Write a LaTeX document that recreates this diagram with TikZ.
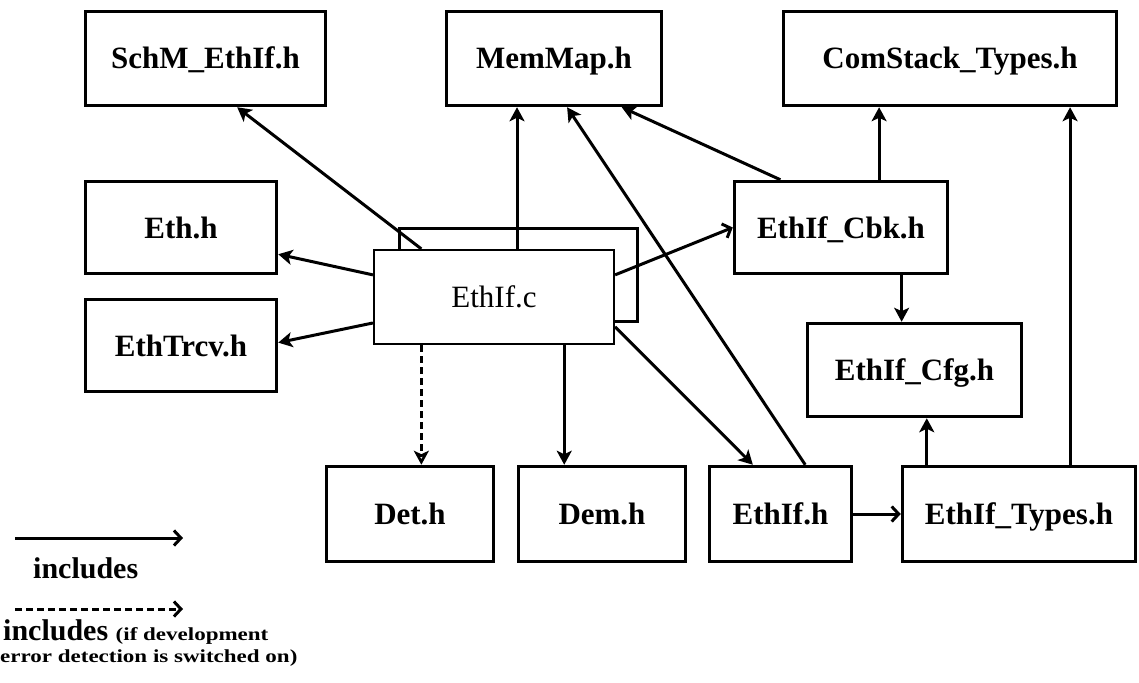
\documentclass[tikz,border=0pt]{standalone}
\usepackage{fontspec}
\setmainfont{Liberation Serif}
\usetikzlibrary{arrows.meta,calc}

\begin{document}
\begin{tikzpicture}[x=1pt,y=-1pt,
  box/.style={draw, line width=3.5pt, fill=white, inner sep=0pt,
    text height=21pt, text depth=0pt,
    font=\fontsize{31}{36}\selectfont\bfseries},
  srcbox/.style={draw, line width=2.2pt, fill=white, inner sep=0pt,
    text height=21pt, text depth=0pt,
    font=\fontsize{31}{36}\selectfont},
  backbox/.style={draw, line width=3.5pt, inner sep=0pt},
  inc/.style={line width=3pt, -{Stealth[length=14pt,width=15pt,inset=3.5pt]}},
  incopen/.style={line width=3pt, -{Straight Barb[length=7pt,width=15pt]}},
  incdev/.style={line width=3pt, dash pattern=on 7pt off 4pt,
    -{Stealth[open,length=14pt,width=15pt,inset=3.5pt]}},
  legend/.style={inner sep=0pt, anchor=base west,
    font=\fontsize{30}{36}\selectfont\bfseries},
]
\useasboundingbox (0,0) rectangle (1139,682);

% header files
\node[box, minimum width=240pt, minimum height=94pt] (schm)     at (205.5,58.5) {SchM\_EthIf.h};
\node[box, minimum width=215pt, minimum height=94pt] (memmap)   at (554,58.5)   {MemMap.h};
\node[box, minimum width=333pt, minimum height=94pt] (comstack) at (950,58.5)   {ComStack\_Types.h};
\node[box, minimum width=191pt, minimum height=92pt] (eth)      at (181,227.5)  {Eth.h};
\node[box, minimum width=191pt, minimum height=92pt] (ethtrcv)  at (181,345.5)  {EthTrcv.h};
\node[box, minimum width=213pt, minimum height=92pt] (cbk)      at (841,227.5)  {EthIf\_Cbk.h};
\node[box, minimum width=214pt, minimum height=93pt] (cfg)      at (914.5,370)  {EthIf\_Cfg.h};
\node[box, minimum width=167pt, minimum height=95pt] (det)      at (410,514)    {Det.h};
\node[box, minimum width=167pt, minimum height=95pt] (dem)      at (602,514)    {Dem.h};
\node[box, minimum width=142pt, minimum height=95pt] (ethifh)   at (780.5,514)  {EthIf.h};
\node[box, minimum width=233pt, minimum height=95pt] (types)    at (1019,514)   {EthIf\_Types.h};

% source file with its frame behind it
\node[backbox, minimum width=238pt, minimum height=93pt] (ethifcback) at (518.5,275) {};
\node[srcbox, minimum width=240pt, minimum height=94pt] (ethifc) at (494,297) {EthIf.c};

% attachment points on the borders
\coordinate (c-schm)  at ($(ethifc.north west)!0.20!(ethifc.north east)$);
\coordinate (c-mem)   at ($(ethifc.north west)!0.595!(ethifc.north east)$);
\coordinate (c-eth)   at ($(ethifc.north west)!0.27!(ethifc.south west)$);
\coordinate (c-trcv)  at ($(ethifc.north west)!0.77!(ethifc.south west)$);
\coordinate (c-cbk)   at ($(ethifc.north east)!0.27!(ethifc.south east)$);
\coordinate (c-ethh)  at ($(ethifc.north east)!0.81!(ethifc.south east)$);
\coordinate (c-det)   at ($(ethifc.south west)!0.20!(ethifc.south east)$);
\coordinate (c-dem)   at ($(ethifc.south west)!0.79!(ethifc.south east)$);

\coordinate (schm-in) at ($(schm.south west)!0.63!(schm.south east)$);
\coordinate (eth-in)  at ($(eth.north east)!0.78!(eth.south east)$);
\coordinate (trcv-in) at ($(ethtrcv.north east)!0.47!(ethtrcv.south east)$);
\coordinate (ethh-in) at ($(ethifh.north west)!0.31!(ethifh.north east)$);
\coordinate (mem-a)   at ($(memmap.south west)!0.56!(memmap.south east)$);
\coordinate (mem-b)   at ($(memmap.south west)!0.81!(memmap.south east)$);

\coordinate (h-mem)   at ($(ethifh.north west)!0.67!(ethifh.north east)$);
\coordinate (k-mem)   at ($(cbk.north west)!0.22!(cbk.north east)$);
\coordinate (k-com)   at ($(cbk.north west)!0.676!(cbk.north east)$);
\coordinate (k-cfg)   at ($(cbk.south west)!0.78!(cbk.south east)$);
\coordinate (t-com)   at ($(types.north west)!0.716!(types.north east)$);
\coordinate (t-cfg)   at ($(types.north west)!0.11!(types.north east)$);

% EthIf.c includes
\draw[inc] (c-schm) -- (schm-in);
\draw[inc] (c-mem) -- (c-mem |- memmap.south);
\draw[inc] (c-eth) -- (eth-in);
\draw[inc] (c-trcv) -- (trcv-in);
\draw[incopen] (c-cbk) -- (cbk.west);
\draw[inc] (c-ethh) -- (ethh-in);
\draw[incdev] (c-det) -- (c-det |- det.north);
\draw[inc] (c-dem) -- (c-dem |- dem.north);

% header includes
\draw[inc] (h-mem) -- (mem-a);
\draw[inc] (k-mem) -- (mem-b);
\draw[inc] (k-com) -- (k-com |- comstack.south);
\draw[inc] (k-cfg) -- (k-cfg |- cfg.north);
\draw[inc] (t-com) -- (t-com |- comstack.south);
\draw[inc] (t-cfg) -- (t-cfg |- cfg.south);
\draw[incopen] (ethifh.east) -- (types.west);

% legend
\coordinate (lg-a1) at (15,538);
\coordinate (lg-a2) at (183,538);
\coordinate (lg-b1) at (15,609);
\coordinate (lg-b2) at (183,609);
\draw[incopen] (lg-a1) -- (lg-a2);
\draw[line width=3pt, dash pattern=on 7pt off 4pt, -{Straight Barb[length=7pt,width=15pt]}] (lg-b1) -- (lg-b2);
\node[legend] (lg-inc) at (33,578) {includes};
\node[legend] (lg-dev1) at (3,640) {includes \fontsize{23}{26}\selectfont\scalebox{1}[0.8]{(if development}};
\node[legend] (lg-dev2) at (0,662) {\fontsize{23}{26}\selectfont\scalebox{1}[0.8]{error detection is switched on)}};
\end{tikzpicture}
\end{document}
